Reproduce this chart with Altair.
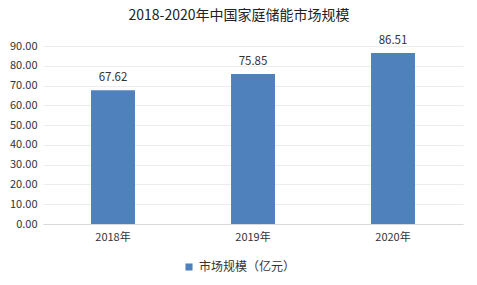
import altair as alt
import pandas as pd

years = ["2018年", "2019年", "2020年"]
values = [67.62, 75.85, 86.51]
series_name = "市场规模（亿元）"
y_ticks = [0, 10, 20, 30, 40, 50, 60, 70, 80, 90]

df = pd.DataFrame({"year": years, "value": values, "series": [series_name] * len(years)})

FONT = "Noto Sans CJK SC"

x = alt.X("year:N", sort=years, title=None,
          scale=alt.Scale(paddingInner=0.686, paddingOuter=0.343),
          axis=alt.Axis(labelAngle=0, ticks=False, domainColor="#d9d9d9", labelFontSize=11,
                        labelColor="#333333", labelFont=FONT, labelPadding=7))
y = alt.Y("value:Q", title=None,
          scale=alt.Scale(domain=[0, 90], nice=False),
          axis=alt.Axis(values=y_ticks, format=".2f", ticks=False, domain=False,
                        labelOverlap=False, labelBound=False,
                        gridColor="#ececec", labelFontSize=11, labelColor="#333333",
                        labelFont=FONT, labelPadding=6))

bars = alt.Chart(df).mark_bar(color="#4F81BD").encode(
    x=x, y=y,
    color=alt.Color("series:N", title=None,
                    scale=alt.Scale(range=["#4F81BD"]),
                    legend=alt.Legend(orient="none", legendX=140, legendY=215,
                                      symbolType="square", symbolSize=50,
                                      labelFontSize=12, labelFont=FONT, labelColor="#333333",
                                      symbolStrokeWidth=0))
)

text = alt.Chart(df).mark_text(baseline="bottom", dy=-7, fontSize=11.5, font=FONT, color="#333333").encode(
    x=x, y=y, text=alt.Text("value:Q", format=".2f")
)

chart = (bars + text).properties(
    width=420, height=178,
    padding={"left": 43, "top": 46, "right": 14, "bottom": 61},
    autosize=alt.AutoSizeParams(type="none"),
    title=alt.TitleParams("2018-2020年中国家庭储能市场规模", font=FONT, fontSize=14,
                          fontWeight="normal", color="#222222", anchor="middle", dx=-14, offset=12),
    background="white",
).configure_view(stroke=None)

chart.save("out.html", embed_options={"renderer": "svg", "actions": False})
